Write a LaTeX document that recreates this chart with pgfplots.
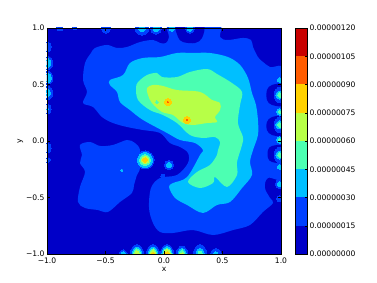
\documentclass[border=0pt]{standalone}
\usepackage{fontspec}
\setmainfont{DejaVu Sans}
\usepackage{pgfplots}
\pgfplotsset{compat=1.18}
\definecolor{lA}{HTML}{0000C8}
\definecolor{lB}{HTML}{0040FF}
\definecolor{lC}{HTML}{00BFFF}
\definecolor{lD}{HTML}{4CFFB2}
\definecolor{lE}{HTML}{B7FF47}
\definecolor{lF}{HTML}{FFD100}
\definecolor{lG}{HTML}{FF5C00}
\definecolor{lH}{HTML}{C80000}
\newcommand{\region}[2]{\addplot[draw=none,fill=#1,forget plot] coordinates {#2} --cycle;}
\newcommand{\blob}[2]{\addplot[draw=none,fill=#1,forget plot,smooth cycle,tension=0.55] coordinates {#2};}
\newcommand{\spot}[3]{\addplot[only marks,mark=*,color=#1,mark size=#2pt,mark options={solid,fill=#1,draw=#1,line width=0pt},forget plot] coordinates {#3};}
\newcommand{\tallspot}[3]{\addplot[only marks,mark=*,color=#1,mark size=#2pt,mark options={solid,fill=#1,draw=#1,line width=0pt,yscale=1.45},forget plot] coordinates {#3};}
\pgfplotsset{common/.style={
  scale only axis,
  tick align=inside,
  tick style={black,line width=0.4pt},
  major tick length=3pt,
  axis line style={black,line width=0.5pt},
  tick label style={font=\fontsize{7.6}{9}\selectfont},
  label style={font=\fontsize{7.6}{9}\selectfont},
  axis on top,
  clip mode=individual,
  clip marker paths=true,
}}
\begin{document}
\begin{tikzpicture}
\path[use as bounding box] (0,0) rectangle (377pt,283pt);
\begin{axis}[common,
  at={(47pt,29pt)},anchor=south west,
  width=234pt,height=226pt,
  xmin=-1,xmax=1,ymin=-1,ymax=1,
  xtick={-1,-0.5,0,0.5,1},ytick={-1,-0.5,0,0.5,1},
  xticklabels={−1.0,−0.5,0.0,0.5,1.0},
  yticklabels={−1.0,−0.5,0.0,0.5,1.0},
  xlabel={x},ylabel={y},
  xlabel style={yshift=3pt},
  ylabel style={yshift=-4pt},
  xticklabel style={yshift=0pt},
  yticklabel style={xshift=1pt},
]
\region{lA}{(-1,-1)(1,-1)(1,1)(-1,1)}
% level 0.15 to 0.30
\blob{lB}{(-0.675,0.690)(-0.624,0.779)(-0.590,0.823)(-0.487,0.850)(-0.402,0.823)(-0.316,0.832)(-0.205,0.876)(-0.094,0.894)(-0.034,0.867)(0.017,0.867)(0.043,0.920)(0.051,1.05)(0.462,1.05)(0.479,0.920)(0.547,0.894)(0.675,0.912)(0.744,0.894)(0.761,0.832)(0.803,0.743)(0.846,0.699)(0.906,0.655)(1.05,0.584)(1.05,-0.274)(0.889,-0.327)(0.863,-0.416)(0.906,-0.504)(0.932,-0.549)(0.846,-0.628)(0.735,-0.743)(0.590,-0.788)(0.419,-0.832)(0.248,-0.788)(0.077,-0.814)(-0.034,-0.805)(-0.094,-0.726)(-0.128,-0.593)(-0.111,-0.416)(-0.034,-0.327)(0.111,-0.301)(0.205,-0.195)(0.205,-0.106)(0.137,-0.053)(0.051,-0.018)(-0.034,0.071)(-0.179,0.097)(-0.316,0.124)(-0.436,0.159)(-0.530,0.212)(-0.607,0.301)(-0.692,0.336)(-0.658,0.434)(-0.692,0.540)}
\blob{lB}{(-0.718,-0.035)(-0.632,-0.009)(-0.547,-0.044)(-0.436,-0.035)(-0.316,0.009)(-0.248,-0.018)(-0.205,-0.080)(-0.205,-0.239)(-0.231,-0.301)(-0.256,-0.389)(-0.274,-0.460)(-0.376,-0.540)(-0.479,-0.628)(-0.564,-0.611)(-0.675,-0.593)(-0.735,-0.540)(-0.718,-0.407)(-0.675,-0.274)(-0.718,-0.195)(-0.701,-0.124)}
% holes
\blob{lA}{(0.111,1.03)(0.120,0.920)(0.162,0.876)(0.265,0.867)(0.325,0.912)(0.333,1.03)}
\blob{lA}{(1.03,0.496)(0.923,0.496)(0.880,0.451)(0.880,0.363)(0.923,0.319)(1.03,0.319)}
\blob{lA}{(1.03,0.212)(0.923,0.212)(0.880,0.168)(0.880,0.097)(0.923,0.053)(1.03,0.053)}
\blob{lA}{(1.03,-0.044)(0.923,-0.044)(0.889,-0.080)(0.889,-0.150)(0.923,-0.186)(1.03,-0.186)}
% level 0.30 to 0.45
\blob{lC}{(-0.462,0.540)(-0.350,0.584)(-0.291,0.690)(-0.179,0.735)(-0.034,0.743)(0.111,0.779)(0.248,0.779)(0.393,0.779)(0.547,0.743)(0.650,0.673)(0.718,0.558)(0.752,0.425)(0.786,0.319)(0.803,0.186)(0.803,0.053)(0.761,-0.080)(0.735,-0.186)(0.752,-0.301)(0.667,-0.416)(0.564,-0.540)(0.453,-0.566)(0.333,-0.637)(0.197,-0.566)(0.094,-0.504)(0.043,-0.407)(0.077,-0.372)(0.197,-0.319)(0.308,-0.124)(0.333,-0.080)(0.265,-0.018)(0.137,0.009)(0.026,0.071)(-0.179,0.186)(-0.291,0.274)(-0.376,0.345)(-0.402,0.434)(-0.462,0.496)}
% level 0.45 to 0.60
\blob{lD}{(-0.239,0.469)(-0.222,0.522)(-0.145,0.584)(-0.060,0.602)(-0.017,0.566)(0.111,0.566)(0.222,0.611)(0.368,0.637)(0.453,0.593)(0.581,0.513)(0.667,0.434)(0.650,0.319)(0.632,0.159)(0.675,0.035)(0.667,-0.035)(0.624,-0.186)(0.624,-0.301)(0.538,-0.407)(0.436,-0.319)(0.419,-0.372)(0.308,-0.416)(0.205,-0.363)(0.282,-0.274)(0.393,-0.212)(0.453,-0.124)(0.462,-0.080)(0.479,-0.009)(0.436,0.035)(0.333,0.027)(0.222,0.053)(0.111,0.159)(-0.009,0.230)(-0.120,0.274)(-0.222,0.363)}
% level 0.60 to 0.75
\blob{lE}{(-0.145,0.469)(-0.094,0.496)(-0.009,0.487)(0.111,0.451)(0.308,0.434)(0.410,0.363)(0.479,0.336)(0.479,0.274)(0.436,0.212)(0.453,0.168)(0.368,0.159)(0.248,0.142)(0.162,0.159)(0.077,0.230)(-0.017,0.257)(-0.103,0.336)(-0.137,0.407)}
% peaks
\spot{lF}{3.5}{(0.034,0.345)(0.197,0.186)}
\spot{lG}{0.7}{(0.034,0.345)(0.197,0.186)}
\spot{lD}{1.5}{(-0.060,0.345)}
% central spots
\spot{lB}{9}{(-0.162,-0.168)}
\spot{lC}{7.5}{(-0.162,-0.168)}
\spot{lD}{5.5}{(-0.162,-0.168)}
\spot{lE}{3.8}{(-0.162,-0.168)}
\spot{lF}{2.2}{(-0.162,-0.168)}
\spot{lB}{4.5}{(0.043,-0.212)}
\spot{lC}{2.5}{(0.043,-0.212)}
\spot{lB}{2}{(-0.009,-0.310)}
\spot{lC}{1}{(-0.359,-0.257)}
% left edge
\tallspot{lB}{4.5}{(-0.99,0.690)(-0.99,0.558)(-0.99,0.425)}
\tallspot{lB}{3.5}{(-0.995,0.832)(-0.995,0.283)(-0.995,-0.062)}
\spot{lB}{2.5}{(-0.995,-0.168)}
\tallspot{lC}{2.8}{(-0.99,0.690)}
\tallspot{lC}{3.2}{(-0.99,0.558)}
\tallspot{lC}{2.2}{(-0.99,0.425)}
\spot{lC}{1.2}{(-0.995,0.283)}
% top edge
\spot{lB}{3}{(-0.889,1.0)}
\spot{lB}{2}{(-0.761,1.0)}
\spot{lB}{4.5}{(-0.496,0.995)(0.222,0.995)}
\spot{lB}{6.5}{(-0.188,0.995)}
\spot{lB}{5.5}{(-0.068,0.995)}
\spot{lC}{3.2}{(-0.188,0.995)(-0.068,0.995)}
\spot{lC}{2.6}{(0.068,0.995)(0.222,0.995)}
% right edge
\tallspot{lB}{5.5}{(0.99,0.407)(0.99,0.142)(0.99,-0.124)}
\spot{lB}{4.5}{(0.99,-0.381)}
\spot{lB}{3}{(0.99,-0.513)}
\spot{lC}{4}{(0.99,0.407)(0.99,0.142)(0.99,-0.124)}
\spot{lC}{3.2}{(0.99,0.257)(0.99,0.009)}
\spot{lC}{2.3}{(0.99,0.540)(0.99,-0.230)(0.99,-0.381)}
\spot{lD}{2.2}{(0.99,0.407)(0.99,0.142)(0.99,-0.124)}
\spot{lD}{1.8}{(0.99,0.257)(0.99,0.009)}
% bottom edge
\spot{lB}{4}{(-0.350,-1.0)}
\tallspot{lB}{6.5}{(-0.231,-1.0)(-0.094,-1.0)(0.026,-1.0)(0.308,-1.0)}
\tallspot{lB}{5.5}{(0.154,-1.0)}
\spot{lB}{5.5}{(0.444,-1.0)}
\spot{lC}{2}{(-0.350,-1.0)(0.444,-1.0)}
\tallspot{lC}{4.8}{(-0.231,-1.0)(-0.094,-1.0)}
\tallspot{lC}{5.2}{(0.026,-1.0)}
\tallspot{lC}{4}{(0.154,-1.0)(0.308,-1.0)}
\tallspot{lD}{3.6}{(-0.231,-1.0)(-0.094,-1.0)}
\tallspot{lD}{4}{(0.026,-1.0)}
\tallspot{lD}{2.8}{(0.154,-1.0)}
\tallspot{lD}{2}{(0.308,-1.0)}
\tallspot{lE}{2.4}{(-0.231,-1.0)}
\tallspot{lE}{2.8}{(-0.094,-1.0)}
\tallspot{lE}{3.2}{(0.026,-1.0)}
\spot{lE}{1.2}{(0.154,-1.0)}
\spot{lF}{1.8}{(-0.094,-1.0)}
\spot{lF}{2.2}{(0.026,-1.0)}
\end{axis}
\begin{axis}[common,
  at={(295pt,29pt)},anchor=south west,
  width=12pt,height=226pt,
  xmin=0,xmax=1,ymin=0,ymax=1.2,
  xtick=\empty,
  ytick={0,0.15,0.30,0.45,0.60,0.75,0.90,1.05,1.20},
  yticklabels={0.00000000,0.00000015,0.00000030,0.00000045,0.00000060,0.00000075,0.00000090,0.00000105,0.00000120},
  ytick pos=right,yticklabel pos=right,
  major tick length=2pt,
  yticklabel style={xshift=-1pt},
]
\region{lA}{(0,0)(1,0)(1,0.15)(0,0.15)}
\region{lB}{(0,0.15)(1,0.15)(1,0.30)(0,0.30)}
\region{lC}{(0,0.30)(1,0.30)(1,0.45)(0,0.45)}
\region{lD}{(0,0.45)(1,0.45)(1,0.60)(0,0.60)}
\region{lE}{(0,0.60)(1,0.60)(1,0.75)(0,0.75)}
\region{lF}{(0,0.75)(1,0.75)(1,0.90)(0,0.90)}
\region{lG}{(0,0.90)(1,0.90)(1,1.05)(0,1.05)}
\region{lH}{(0,1.05)(1,1.05)(1,1.20)(0,1.20)}
\end{axis}
\end{tikzpicture}
\end{document}
